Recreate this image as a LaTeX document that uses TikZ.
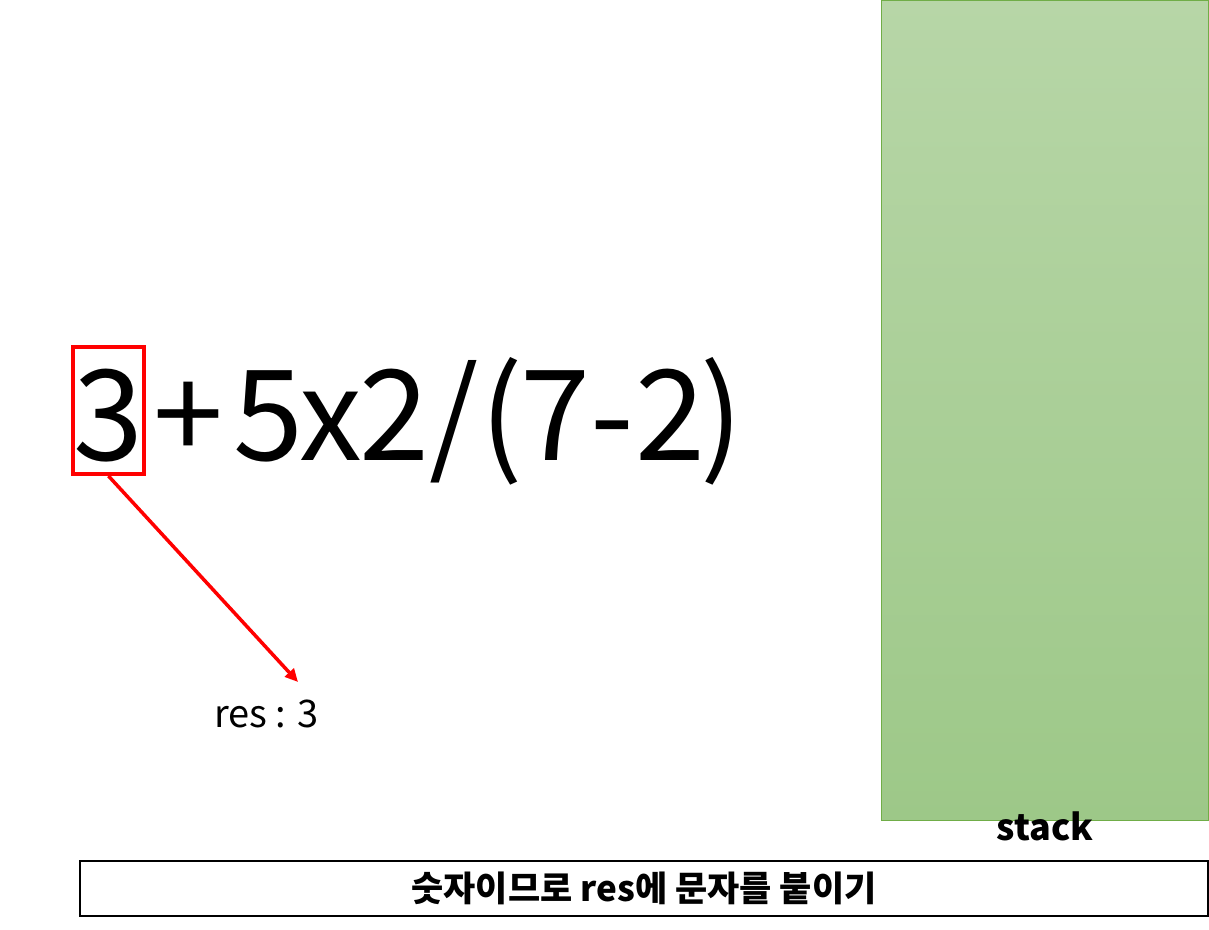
\documentclass[tikz,border=0pt]{standalone}
\usepackage{fontspec}
\setmainfont{Noto Sans CJK KR}
\newfontfamily\kr{Noto Sans CJK KR}
\usetikzlibrary{arrows.meta}
\definecolor{gtop}{RGB}{183,214,167}
\definecolor{gbot}{RGB}{157,200,136}
\definecolor{gline}{RGB}{112,173,71}
\tikzset{
  expr/.style={anchor=base, inner sep=0pt, font=\fontsize{126}{126}\selectfont},
  hilite/.style={draw=red, line width=4pt, minimum width=71pt, minimum height=127pt, inner sep=0pt},
  redarrow/.style={draw=red, line width=3.5pt, -{Triangle[length=13pt,width=12pt]}},
  caption/.style={draw=black, line width=2pt, minimum width=1128pt, minimum height=55pt, inner sep=0pt},
}
\begin{document}
\begin{tikzpicture}[x=1pt,y=-1pt]
\useasboundingbox (0,0) rectangle (1209,929);
% stack
\shade[top color=gtop, bottom color=gbot] (881,0) rectangle (1209,820);
\draw[gline, line width=1pt] (881.5,0) -- (881.5,820) -- (1208.5,820) -- (1208.5,0) -- cycle;
\node[font=\bfseries\fontsize{36}{36}\selectfont, anchor=base] (stk) at (1045,840) {stack};
% expression
\node[hilite] (box) at (108.5,410.5) {};
\node[expr] (c3) at (108,460) {3};
\node[expr] (c1) at (188,460) {+};
\node[expr] (c2) at (268,460) {5};
\node[expr] (c4) at (331,460) {x};
\node[expr] (c5) at (394,460) {2};
\node[expr] (c6) at (454,460) {/};
\node[expr] (c7) at (502,460) {(};
\node[expr] (c8) at (555,460) {7};
\node[expr] (c9) at (612,460) {-};
\node[expr] (c10) at (670,460) {2};
\node[expr] (c11) at (722,460) {)};
% result
\node[anchor=base west, inner sep=0pt, font=\fontsize{38}{38}\selectfont] (res) at (214,727) {res : 3};
\coordinate (tip) at (298,682);
\draw[redarrow] (box.south) -- (tip);
% caption
\node[caption] (cap) at (644,888.5) {};
\node[font=\kr\bfseries\fontsize{35}{35}\selectfont] (captext) at (cap.center) {숫자이므로 res에 문자를 붙이기};
\end{tikzpicture}
\end{document}
